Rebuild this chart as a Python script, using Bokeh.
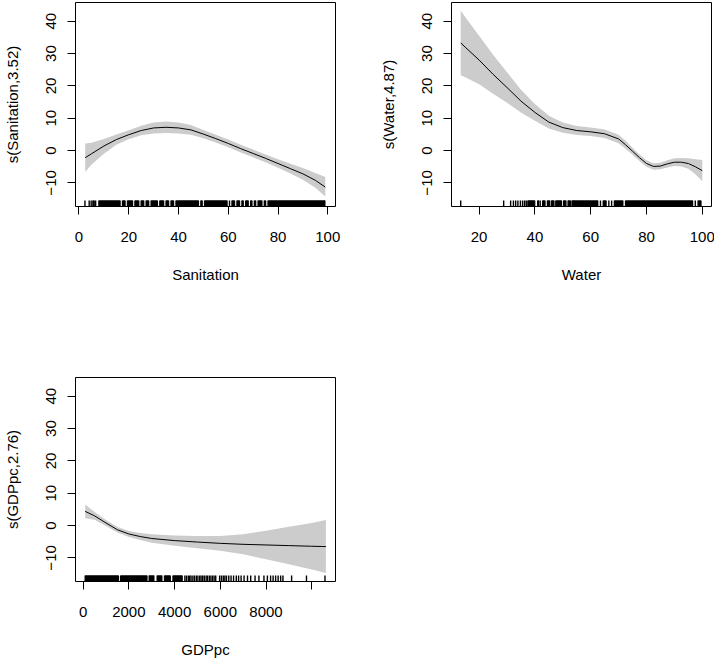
from bokeh.plotting import figure
from bokeh.layouts import row, column
from bokeh.models import FixedTicker, Range1d
from bokeh.embed import file_html
from bokeh.resources import INLINE

# ---------------- data ----------------
Y_LIM = (-17.3, 45.8)
Y_TICKS = [-10, 0, 10, 20, 30, 40]

# Sanitation smooth
san_x = [2.5, 5, 10, 15, 20, 25, 30, 35, 40, 45, 50, 55, 60, 65, 70, 75, 80, 85, 90, 95, 99]
san_fit = [-2.2, -1.0, 1.4, 3.4, 4.9, 6.2, 7.0, 7.2, 7.0, 6.4, 5.1, 3.7, 2.2, 0.6, -0.9, -2.4, -4.0, -5.6, -7.2, -9.2, -11.3]
san_upper = [2.2, 2.4, 3.6, 5.0, 6.3, 7.7, 8.7, 9.0, 8.7, 7.9, 6.4, 4.9, 3.4, 1.8, 0.3, -1.2, -2.7, -4.1, -5.4, -6.9, -8.2]
san_lower = [-6.6, -4.4, -1.0, 1.8, 3.5, 4.7, 5.3, 5.4, 5.3, 4.9, 3.8, 2.5, 1.0, -0.6, -2.1, -3.6, -5.3, -7.1, -9.0, -11.5, -14.2]
san_rug = [2.4, 4.1, 4.9, 5.6, 6.1, 6.7,
           8.0, 8.5, 9.0, 9.5, 10.0, 10.5, 11.0, 11.5, 12.0, 12.5, 13.0, 13.5, 14.0, 14.5,
           15.0, 15.5, 16.0, 16.5, 17.5, 18.0, 18.5, 19.5, 20.0, 20.5, 21.0, 21.5, 22.5,
           23.0, 23.5, 24.0, 25.0, 25.5, 26.0, 27.0, 27.5, 28.0, 29.0, 29.5, 30.0, 30.5,
           31.0, 31.5, 32.5, 33.0, 33.5, 34.0, 35.0, 35.5, 36.0, 37.0, 37.5, 38.0, 39.0,
           39.5, 40.0, 40.5, 41.0, 41.5, 42.0, 42.5, 43.0, 43.5, 44.0, 44.5, 45.0, 45.5,
           46.0, 46.5, 47.0, 47.5, 48.0, 49.0, 49.5, 50.5, 51.0, 51.5, 52.0, 52.5, 53.0,
           53.5, 54.0, 54.5, 55.0, 55.5, 56.0, 56.5, 57.0, 57.5, 58.0, 58.5, 59.0, 59.5,
           60.5, 61.5, 62.0, 62.5, 63.5, 64.0, 64.5, 65.5, 66.0, 67.0, 67.5, 68.0, 69.0,
           69.5, 70.5, 71.0, 72.0, 72.5, 73.0, 73.5, 74.5, 75.0, 76.0, 76.5, 77.0, 77.5,
           78.0, 78.5, 79.0, 79.5, 80.0, 80.5, 81.0, 81.5, 82.0, 82.5, 83.0, 83.5, 84.0,
           84.5, 85.0, 85.5, 86.0, 86.5, 87.0, 87.5, 88.0, 88.5, 89.0, 89.5, 90.0, 90.5,
           91.0, 91.5, 92.0, 92.5, 93.0, 93.5, 94.0, 94.5, 95.0, 95.5, 96.0, 96.5, 97.0,
           97.5, 98.0, 98.5, 98.8]

# Water smooth
wat_x = [13.4, 15, 20, 25, 30, 35, 40, 45, 50, 55, 60, 65, 70, 72.5, 75, 77.5, 80, 82.5, 85, 87.5, 90, 92.5, 95, 97.5, 100]
wat_fit = [33.3, 32.0, 28.0, 23.6, 19.5, 15.3, 11.8, 8.8, 7.1, 6.2, 5.8, 5.2, 3.6, 1.8, -0.2, -2.2, -4.0, -4.9, -4.8, -4.1, -3.6, -3.6, -4.0, -5.0, -6.2]
wat_upper = [43.3, 41.3, 35.5, 29.6, 24.2, 18.8, 14.4, 10.8, 8.7, 7.6, 7.1, 6.5, 4.9, 3.0, 0.9, -1.2, -3.0, -3.9, -3.8, -3.0, -2.4, -2.3, -2.4, -2.7, -2.9]
wat_lower = [23.3, 22.7, 20.5, 17.6, 14.8, 11.8, 9.2, 6.8, 5.5, 4.8, 4.5, 3.9, 2.3, 0.6, -1.3, -3.2, -5.0, -5.9, -5.8, -5.2, -4.8, -4.9, -5.6, -7.3, -9.5]
wat_rug = [13.4, 28.8, 31.3, 32.3, 33.1, 33.9, 34.8, 35.6, 36.3, 36.9, 37.5, 37.9, 38.3,
           38.7, 39.1, 39.5, 39.9, 41.0, 41.3, 41.9, 42.8, 43.1, 43.6, 44.5, 44.8, 45.3,
           46.0, 46.3, 46.8, 47.5, 47.9, 48.3, 48.7, 49.1, 49.5, 50.3, 50.6, 51.1, 51.9,
           52.2, 52.7, 53.3, 53.7, 54.1, 54.5, 55.0, 55.5, 56.0, 56.5, 57.0, 57.5, 58.0,
           58.5, 59.0, 59.5, 60.0, 60.5, 61.0, 61.5, 62.0, 62.5, 63.5, 64.5, 65.0, 65.5,
           66.5, 67.5, 68.5, 69.0, 69.5, 70.0, 70.5, 71.0, 71.5, 72.5, 73.0, 73.5, 74.0,
           74.5, 75.0, 75.5, 76.0, 76.5, 77.0, 77.5, 78.0, 78.5, 79.0, 79.5, 80.0, 80.5,
           81.0, 81.5, 82.0, 82.5, 83.0, 83.5, 84.0, 84.5, 85.0, 85.5, 86.0, 86.5, 87.0,
           87.5, 88.0, 88.5, 89.0, 89.5, 90.0, 90.5, 91.0, 91.5, 92.0, 92.5, 93.0, 93.5,
           94.0, 94.5, 95.0, 95.5, 96.0, 96.5, 97.5, 98.5, 99.0, 99.5]

# GDPpc smooth
gdp_x = [90, 500, 1000, 1500, 2000, 2500, 3000, 4000, 5000, 6000, 7000, 8000, 9000, 10000, 10620]
gdp_fit = [4.4, 3.0, 0.8, -1.3, -2.6, -3.4, -4.0, -4.65, -5.1, -5.5, -5.8, -6.0, -6.2, -6.4, -6.5]
gdp_upper = [6.5, 4.2, 1.7, -0.45, -1.7, -2.3, -2.7, -3.05, -3.2, -3.2, -2.7, -1.6, -0.4, 0.8, 1.7]
gdp_lower = [2.3, 1.8, -0.1, -2.15, -3.5, -4.5, -5.3, -6.25, -7.0, -7.8, -8.9, -10.4, -12.0, -13.6, -14.7]
gdp_rug = [90, 140, 190, 240, 290, 340, 390, 440, 490, 540, 590, 640, 690, 740, 790, 840,
           890, 940, 990, 1040, 1090, 1140, 1190, 1240, 1290, 1340, 1390, 1440, 1490, 1540,
           1640, 1690, 1740, 1790, 1840, 1890, 1940, 1990, 2040, 2090, 2140, 2190, 2240,
           2290, 2340, 2390, 2440, 2490, 2540, 2590, 2640, 2690, 2740, 2790, 2890, 2940,
           2990, 3040, 3090, 3240, 3290, 3340, 3390, 3440, 3560, 3610, 3660, 3710, 3760,
           3810, 3930, 3980, 4030, 4080, 4130, 4180, 4230, 4280, 4330, 4450, 4520, 4600,
           4660, 4720, 4800, 4870, 4950, 5020, 5100, 5160, 5230, 5300, 5380, 5440, 5520,
           5590, 5660, 5730, 5800, 5970, 6050, 6130, 6200, 6270, 6370, 6470, 6580, 6700,
           6800, 6910, 7040, 7190, 7330, 7520, 7690, 7910, 8060, 8200, 8310, 8420, 8530,
           8640, 8740, 9120, 9770, 10580]

FONT = "Liberation Sans"
BAND = "#cccccc"


def rug_runs(vals, max_step):
    """Group rug values whose neighbours are closer than max_step (merge into solid blocks)."""
    vals = sorted(vals)
    lefts, rights = [], []
    start = prev = vals[0]
    for v in vals[1:]:
        if v - prev > max_step:
            if prev > start:
                lefts.append(start)
                rights.append(prev)
            start = v
        prev = v
    if prev > start:
        lefts.append(start)
        rights.append(prev)
    return lefts, rights


def make_panel(xs, fit, upper, lower, rug, rug_step, xlim, xticks, xlabel, ylabel,
               border, overrides=None):
    left, right, top, bottom = border
    p = figure(frame_width=260, frame_height=204,
               x_range=Range1d(*xlim), y_range=Range1d(*Y_LIM),
               output_backend="svg", toolbar_location=None,
               min_border_left=left, min_border_right=right,
               min_border_top=top, min_border_bottom=bottom)
    p.varea(x=xs, y1=lower, y2=upper, fill_color=BAND, fill_alpha=1.0)
    p.line(xs, fit, line_color="black", line_width=1)

    r0 = Y_LIM[0]
    r1 = Y_LIM[0] + 0.03 * (Y_LIM[1] - Y_LIM[0])
    bl, br = rug_runs(rug, rug_step)
    p.quad(left=bl, right=br, bottom=[r0] * len(bl), top=[r1] * len(bl),
           fill_color="black", line_color=None)
    p.segment(x0=rug, x1=rug, y0=[r0] * len(rug), y1=[r1] * len(rug),
              line_color="black", line_width=1.4)

    p.grid.grid_line_color = None
    p.outline_line_color = "black"
    p.outline_line_width = 1
    p.outline_line_alpha = 1.0

    p.xaxis.ticker = FixedTicker(ticks=xticks)
    p.yaxis.ticker = FixedTicker(ticks=Y_TICKS)
    if overrides:
        p.xaxis.major_label_overrides = overrides
    for ax in (p.xaxis[0], p.yaxis[0]):
        ax.axis_line_color = None
        ax.major_tick_out = 8
        ax.major_tick_in = 0
        ax.major_tick_line_color = "black"
        ax.minor_tick_line_color = None
        ax.major_label_text_font = FONT
        ax.major_label_text_font_size = "15px"
        ax.major_label_text_color = "black"
        ax.axis_label_text_font = FONT
        ax.axis_label_text_font_size = "15px"
        ax.axis_label_text_font_style = "normal"
        ax.axis_label_text_color = "black"
    p.xaxis.axis_label = xlabel
    p.yaxis.axis_label = ylabel
    p.xaxis.major_label_standoff = 17
    p.xaxis.axis_label_standoff = 21
    p.yaxis.major_label_orientation = "vertical"
    p.yaxis.major_label_standoff = 11
    p.yaxis.axis_label_standoff = 23
    return p


p1 = make_panel(san_x, san_fit, san_upper, san_lower, san_rug, 0.55,
                (-1.4, 103.1), [0, 20, 40, 60, 80, 100],
                "Sanitation", "s(Sanitation,3.52)",
                (73, 24, 2, 170))
p2 = make_panel(wat_x, wat_fit, wat_upper, wat_lower, wat_rug, 0.55,
                (10.1, 103.3), [20, 40, 60, 80, 100],
                "Water", "s(Water,4.87)",
                (92, 4, 2, 170))
p3 = make_panel(gdp_x, gdp_fit, gdp_upper, gdp_lower, gdp_rug, 55,
                (-335, 11040), [0, 2000, 4000, 6000, 8000, 10000],
                "GDPpc", "s(GDPpc,2.76)",
                (73, 24, 1, 76), overrides={10000: ""})

layout = column(row(p1, p2), p3)

open("out.html", "w").write(file_html(layout, INLINE))
